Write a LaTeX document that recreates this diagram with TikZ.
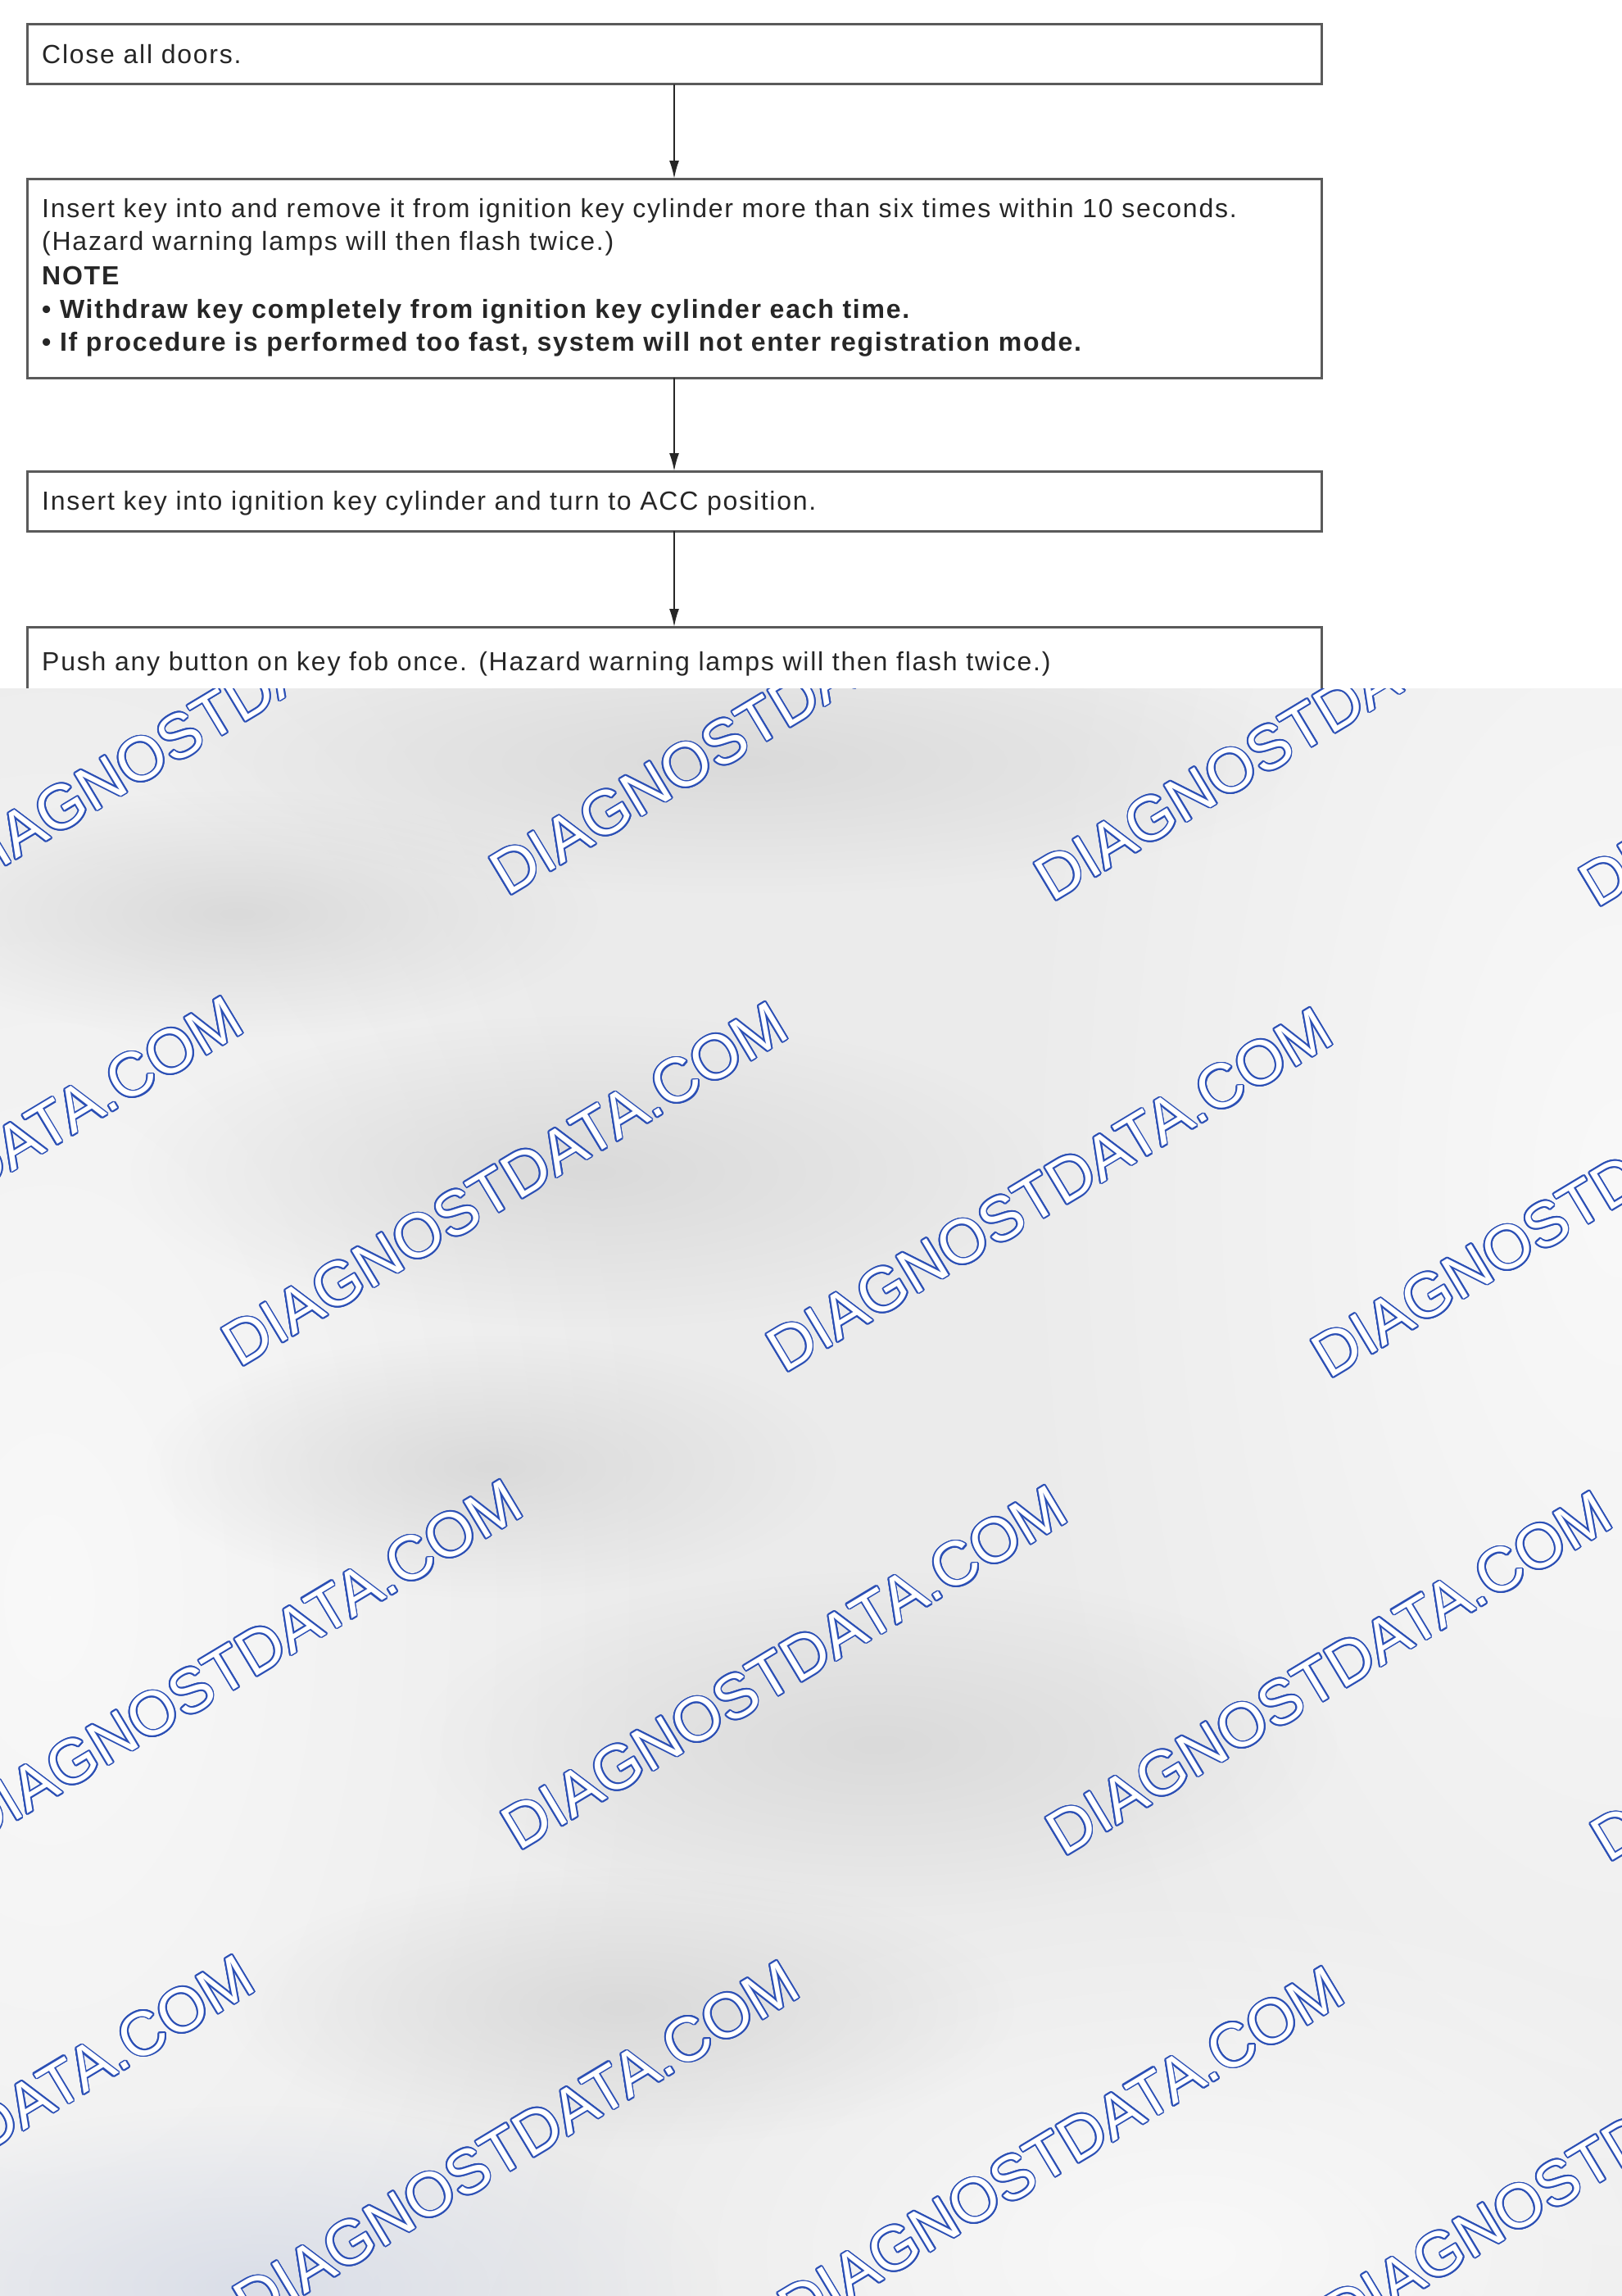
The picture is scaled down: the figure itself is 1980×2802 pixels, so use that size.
\documentclass[tikz,border=0pt]{standalone}
\usepackage{fontspec}
\setmainfont{Liberation Sans}
\newfontfamily\boxfont[LetterSpace=5.5]{Liberation Sans}
\usepackage{contour}
\contourlength{1.8pt}
\usetikzlibrary{arrows.meta,fadings}
\tikzfading[name=softblob, inner color=transparent!0, outer color=transparent!100]
\definecolor{boxline}{HTML}{5A5A5A}
\definecolor{txt}{HTML}{262626}
\definecolor{bgc}{HTML}{EBEBEB}
\definecolor{darkblob}{HTML}{DADADA}
\definecolor{lightblob}{HTML}{F9F9F9}
\definecolor{blueblob}{HTML}{DADEE8}
\definecolor{wmblue}{HTML}{2B4FB5}
\begin{document}
\begin{tikzpicture}[x=1pt,y=-1pt,
  stepbox/.style={draw=boxline,line width=3pt,minimum width=1580pt,inner sep=0pt,outer sep=0pt},
  txtline/.style={anchor=base west,inner sep=0pt,text=txt,font=\boxfont\fontsize{32}{40}\selectfont},
  btxtline/.style={anchor=base west,inner sep=0pt,text=txt,font=\boxfont\fontsize{32}{40}\selectfont\bfseries},
  arr/.style={draw=txt,line width=2pt,-{Latex[length=22pt,width=12pt]}},
  wm/.style={anchor=base west,rotate=31,inner sep=0pt,text=white,font=\fontsize{76}{90}\selectfont},
  blob/.style={path fading=softblob}]
\useasboundingbox (0,0) rectangle (1980,2802);
\fill[white] (0,0) rectangle (1980,2802);
% boxes
\node[stepbox,minimum height=73pt] (b1) at (823,66.5) {};
\node[stepbox,minimum height=243pt] (b2) at (823,339.5) {};
\node[stepbox,minimum height=73pt] (b3) at (823,611.5) {};
\node[stepbox,minimum height=150pt] (b4) at (823,840) {};
\draw[arr] (b1.south) -- (b2.north);
\draw[arr] (b2.south) -- (b3.north);
\draw[arr] (b3.south) -- (b4.north);
% texts
\node[txtline] (t1) at (51,78) {Close all doors.};
\node[txtline] (t2a) at (51,265) {Insert key into and remove it from ignition key cylinder more than six times within 10 seconds.};
\node[txtline] (t2b) at (51,305) {(Hazard warning lamps will then flash twice.)};
\node[btxtline] (t2c) at (51,347) {NOTE};
\node[btxtline] (t2d) at (51,388) {• Withdraw key completely from ignition key cylinder each time.};
\node[btxtline] (t2e) at (51,428) {• If procedure is performed too fast, system will not enter registration mode.};
\node[txtline] (t3) at (51,622) {Insert key into ignition key cylinder and turn to ACC position.};
\node[txtline] (t4) at (51,818) {Push any button on key fob once. (Hazard warning lamps will then flash twice.)};
% blurred cover
\fill[bgc] (0,840) rectangle (1980,2802);
\begin{scope}
\clip (0,840) rectangle (1980,2802);
\fill[lightblob,blob] (60,1950) ellipse [x radius=760pt, y radius=1400pt];
\fill[lightblob,blob] (1980,1450) ellipse [x radius=760pt, y radius=1500pt];
\fill[lightblob,blob] (1450,2750) ellipse [x radius=800pt, y radius=450pt];
\fill[darkblob,blob] (290,1115) ellipse [x radius=440pt, y radius=150pt];
\fill[darkblob,blob] (720,1430) ellipse [x radius=560pt, y radius=190pt];
\fill[darkblob,blob] (600,1790) ellipse [x radius=420pt, y radius=160pt];
\fill[darkblob,blob] (1073,2129) ellipse [x radius=560pt, y radius=210pt];
\fill[darkblob,blob] (760,2450) ellipse [x radius=480pt, y radius=170pt];
\fill[darkblob,blob] (900,930) ellipse [x radius=700pt, y radius=160pt];
\fill[blueblob,blob] (316,2790) ellipse [x radius=560pt, y radius=220pt];
% watermarks
\foreach \r/\x/\y in {1/-46/1088, 2/-373/1663, 3/-32/2253, 4/-359/2833}{
  \foreach \c in {0,1,2,3}{
    \node[wm] (w\r\c) at ({\x+665*\c},{\y+7*\c}) {\contour{wmblue}{DIAGNOSTDATA.COM}};
  }
}
\end{scope}
\end{tikzpicture}
\end{document}
